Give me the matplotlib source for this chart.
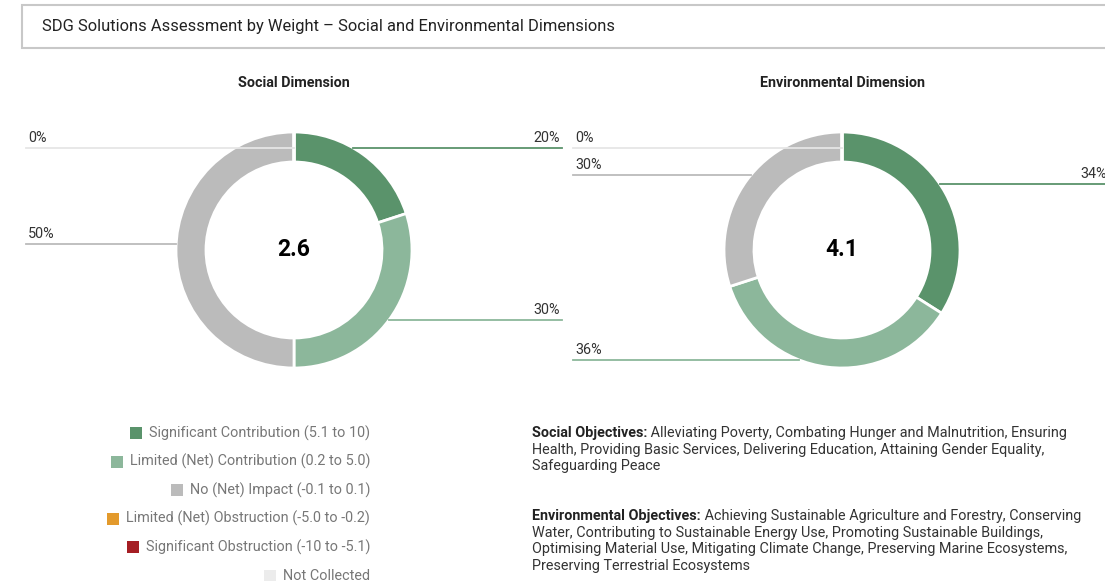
import matplotlib.pyplot as plt
from matplotlib.patches import Rectangle

plt.rcParams['font.family'] = ['Roboto', 'DejaVu Sans']

# =========================
# data
# =========================
TITLE = "SDG Solutions Assessment by Weight \u2013 Social and Environmental Dimensions"
CATEGORIES = [
    "Significant Contribution (5.1 to 10)",
    "Limited (Net) Contribution (0.2 to 5.0)",
    "No (Net) Impact (-0.1 to 0.1)",
    "Limited (Net) Obstruction (-5.0 to -0.2)",
    "Significant Obstruction (-10 to -5.1)",
    "Not Collected",
]
COLORS = ["#5a936b", "#8cb79b", "#bbbbbb", "#e39a2c", "#a51e24", "#ececec"]

DIMENSIONS = ["Social Dimension", "Environmental Dimension"]
SOCIAL_SHARE = [20, 30, 50, 0, 0, 0]
ENV_SHARE = [34, 36, 30, 0, 0, 0]
SCORES = [2.6, 4.1]

SOCIAL_TEXT = [
    ("Social Objectives:", " Alleviating Poverty, Combating Hunger and Malnutrition, Ensuring"),
    ("", "Health, Providing Basic Services, Delivering Education, Attaining Gender Equality,"),
    ("", "Safeguarding Peace"),
]
ENV_TEXT = [
    ("Environmental Objectives:", " Achieving Sustainable Agriculture and Forestry, Conserving"),
    ("", "Water, Contributing to Sustainable Energy Use, Promoting Sustainable Buildings,"),
    ("", "Optimising Material Use, Mitigating Climate Change, Preserving Marine Ecosystems,"),
    ("", "Preserving Terrestrial Ecosystems"),
]

# =========================
# layout (pixels, y measured from top)
# =========================
W, H = 1105, 581
R_OUT, RING = 118, 30
DONUTS = [
    # center, left label x, right label x, label line y per slice (None = no label)
    dict(cx=294, cy=250, lx=28, rx=560, ys=[148, 320, 244, None, None, 148]),
    dict(cx=842, cy=250, lx=575, rx=1107, ys=[184, 360, 175, None, None, 148]),
]

fig = plt.figure(figsize=(W / 100, H / 100), dpi=100)
ax = fig.add_axes([0, 0, 1, 1])


def Y(py):
    return H - py


# title box
ax.add_patch(Rectangle((22, Y(48)), 1200, 43, facecolor="white",
                       edgecolor="#c8c8c8", linewidth=1.5, zorder=1))
ax.text(42, Y(26), TITLE, fontsize=11.9, color="#222222", va="center", zorder=2)

for dim, shares, score, d in zip(DIMENSIONS, [SOCIAL_SHARE, ENV_SHARE], SCORES, DONUTS):
    cx, cy = d["cx"], Y(d["cy"])
    ax.pie(shares, colors=COLORS, center=(cx, cy), radius=R_OUT,
           startangle=90, counterclock=False,
           wedgeprops=dict(width=RING, edgecolor="white", linewidth=2))
    ax.text(cx, Y(83), dim, fontsize=10.4, fontweight="bold", color="#222222",
            ha="center", va="center")
    ax.text(cx, cy, f"{score}", fontsize=16.5, fontweight="bold", color="black",
            ha="center", va="center")

    # leader lines + percent labels
    start = 0
    total = sum(shares)
    for val, col, ly in zip(shares, COLORS, d["ys"]):
        mid = (start + val / 2) / total
        start += val
        if ly is None:
            continue
        dy = d["cy"] - ly
        right = 0 < mid < 0.5
        if val == 0:
            ex = cx
        else:
            dx = (max(R_OUT ** 2 - dy ** 2, 0)) ** 0.5
            ex = cx + dx if right else cx - dx
        lc = col if col != "#ececec" else "#e6e6e6"
        if right:
            ax.plot([ex, d["rx"] + 2], [Y(ly), Y(ly)], color=lc, lw=1.3, zorder=5)
            ax.text(d["rx"], Y(ly - 10), f"{val}%", fontsize=10.4, color="#333333",
                    ha="right", va="center")
        else:
            ax.plot([d["lx"] - 2, ex], [Y(ly), Y(ly)], color=lc, lw=1.3, zorder=5)
            ax.text(d["lx"], Y(ly - 10), f"{val}%", fontsize=10.4, color="#333333",
                    ha="left", va="center")

ax.set_xlim(0, W)
ax.set_ylim(0, H)
ax.set_aspect("auto")
ax.axis("off")

fig.canvas.draw()
renderer = fig.canvas.get_renderer()
inv = ax.transData.inverted()

# legend, right aligned
for i, (cat, col) in enumerate(zip(CATEGORIES, COLORS)):
    ly = Y(433 + i * 28.6)
    t = ax.text(370, ly, cat, fontsize=10.4, color="#777777", ha="right", va="center")
    bb = t.get_window_extent(renderer)
    x0 = inv.transform((bb.x0, bb.y0))[0]
    ax.add_patch(Rectangle((x0 - 19, ly - 6), 12, 12, facecolor=col,
                           edgecolor="none"))

# objectives text
def paragraph(lines, top):
    for j, (bold, rest) in enumerate(lines):
        y = Y(top + j * 16.6)
        x = 532
        if bold:
            t = ax.text(x, y, bold, fontsize=10.4, fontweight="bold", color="#222222",
                        va="center")
            bb = t.get_window_extent(renderer)
            x = inv.transform((bb.x1, bb.y0))[0]
        ax.text(x, y, rest, fontsize=10.4, color="#333333", va="center")


paragraph(SOCIAL_TEXT, 433)
paragraph(ENV_TEXT, 516)

fig.savefig("out.png", dpi=100)
